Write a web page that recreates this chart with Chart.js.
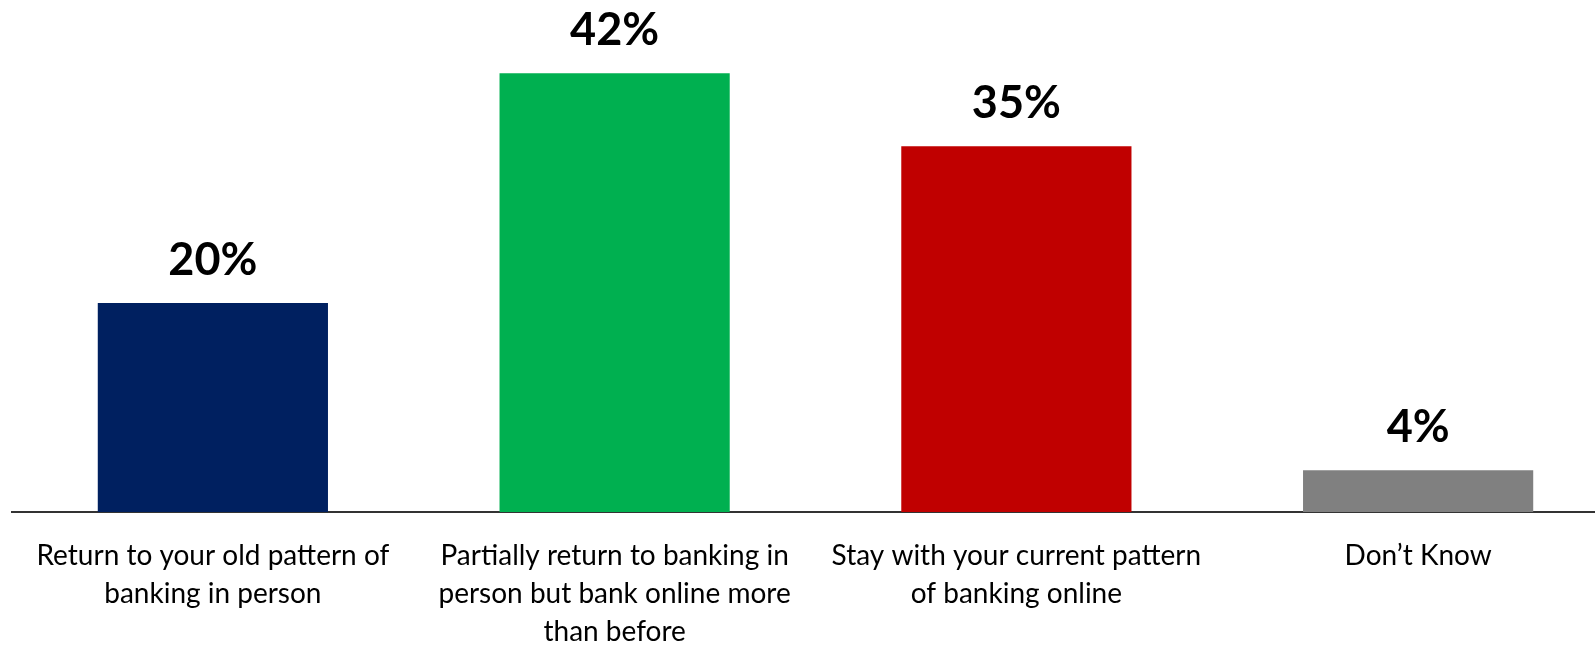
<!DOCTYPE html>
<html>
<head>
<meta charset="utf-8">
<script src="https://cdn.jsdelivr.net/npm/chart.js@4"></script>
<style>
  html, body { margin: 0; padding: 0; background: #fff; overflow: hidden; }
  #wrap { width: 1620px; height: 645px; position: relative; }
</style>
</head>
<body>
<div id="wrap"><canvas id="bankingChart"></canvas></div>
<script>
// Answer categories (multi-line labels as drawn under the axis)
const categories = [
    ['Return to your old pattern of', 'banking in person'],
    ['Partially return to banking in', 'person but bank online more', 'than before'],
    ['Stay with your current pattern', 'of banking online'],
    ['Don\u2019t Know']
];
// Share of respondents, in percent
const shares = [20, 42, 35, 4];
const barColors = ['#002060', '#00B050', '#C00000', '#808080'];

// Draws the bold percentage above each bar
const valueLabels = {
    id: 'valueLabels',
    afterDatasetsDraw(chart) {
        const ctx = chart.ctx;
        const meta = chart.getDatasetMeta(0);
        ctx.save();
        ctx.font = 'bold 45px Lato';
        ctx.fillStyle = '#000';
        ctx.textAlign = 'center';
        ctx.textBaseline = 'alphabetic';
        meta.data.forEach((bar, i) => {
            ctx.fillText(shares[i] + '%', bar.x, bar.y - 28);
        });
        ctx.restore();
    }
};

function initializeBankingChart() {
    try {
        const ctx = document.getElementById('bankingChart').getContext('2d');
        new Chart(ctx, {
            type: 'bar',
            data: {
                labels: categories,
                datasets: [{
                    data: shares,
                    backgroundColor: barColors,
                    borderWidth: 0,
                    categoryPercentage: 1,
                    barPercentage: 0.573
                }]
            },
            options: {
                responsive: true,
                maintainAspectRatio: false,
                animation: false,
                layout: { padding: { left: 12, right: 1, top: 0, bottom: 0 } },
                plugins: {
                    legend: { display: false },
                    tooltip: { enabled: false }
                },
                scales: {
                    y: {
                        display: false,
                        min: 0,
                        max: 49
                    },
                    x: {
                        grid: { display: false },
                        border: { display: true, color: '#333', width: 2 },
                        ticks: {
                            color: '#000',
                            autoSkip: false,
                            maxRotation: 0,
                            padding: 17,
                            font: { family: 'Lato', size: 28, lineHeight: 1.36 }
                        },
                        afterFit(scale) {
                            scale.height = 133; // keeps the baseline at y = 512
                        }
                    }
                }
            },
            plugins: [valueLabels]
        });
    } catch (error) {
        console.error('Error initializing banking chart:', error);
    }
}

document.addEventListener('DOMContentLoaded', initializeBankingChart);
</script>
</body>
</html>
